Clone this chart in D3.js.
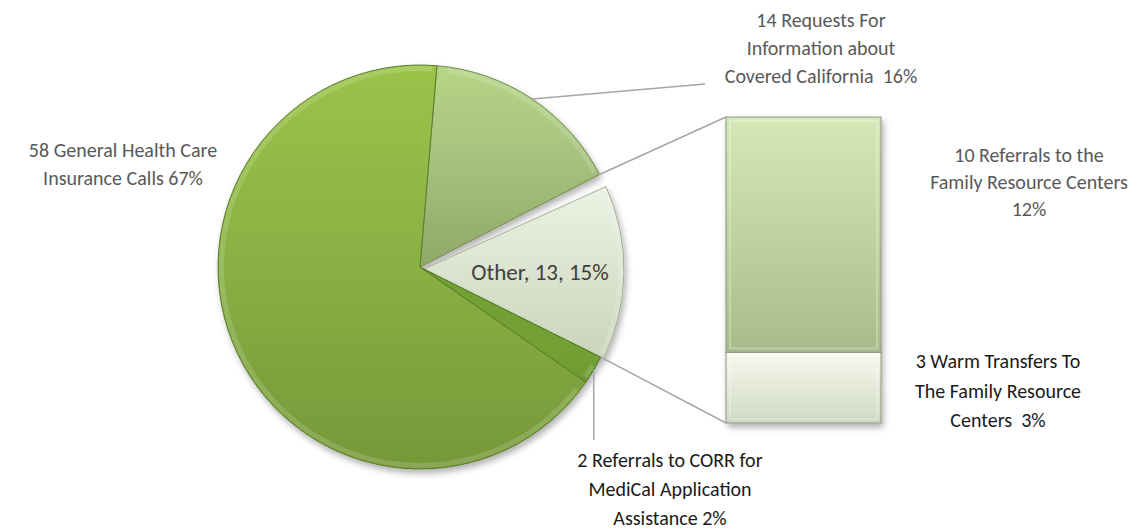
<!DOCTYPE html>
<html>
<head>
<meta charset="utf-8">
<script src="https://cdn.jsdelivr.net/npm/d3@7"></script>
<style>
  body { margin: 0; background: #fff; }
  text { font-family: Carlito, Calibri, Lato, sans-serif; white-space: pre; }
</style>
</head>
<body>
<script>
// pie slices, clockwise from just right of 12 o'clock
let sliceNames = ['Requests', 'Other', 'CORR', 'General']
let sliceValues = [14, 13, 2, 58]
let sliceLabels = [
  ['14 Requests For', 'Information about', 'Covered California  16%'],
  ['Other, 13, 15%'],
  ['2 Referrals to CORR for', 'MediCal Application', 'Assistance 2%'],
  ['58 General Health Care', 'Insurance Calls 67%']
]
// the "Other" slice broken out into the bar
let barNames = ['Referrals', 'Warm']
let barValues = [10, 3]
let barLabels = [
  ['10 Referrals to the', 'Family Resource Centers', '12%'],
  ['3 Warm Transfers To', 'The Family Resource', 'Centers  3%']
]

let width = 1139, height = 531
let cx = 420, cy = 267, radius = 202
let startDeg = 4.8

let svg = d3.select('body').append('svg')
  .attr('width', width)
  .attr('height', height)

let defs = svg.append('defs')

// vertical gradients (top light -> bottom darker)
// pie ones are in the pie group's coords (origin at the centre)
function gradient(id, stops, y1, y2) {
  let g = defs.append('linearGradient')
    .attr('id', id)
    .attr('gradientUnits', 'userSpaceOnUse')
    .attr('x1', 0).attr('x2', 0)
    .attr('y1', y1).attr('y2', y2)
  stops.forEach(s => g.append('stop').attr('offset', s[0]).attr('stop-color', s[1]))
}
gradient('g-Requests', [['0%', '#b6d686'], ['50%', '#a5c07d'], ['100%', '#8fa868']], -radius, 0)
gradient('g-Other', [['0%', '#f0f5e8'], ['100%', '#c9d3b8']], -100, 95)
gradient('g-CORR', [['0%', '#72a034'], ['100%', '#5a8426']], 90, 180)
gradient('g-General', [['0%', '#9bc349'], ['50%', '#89b043'], ['100%', '#759839']], -radius, radius)
gradient('g-Referrals', [['0%', '#d6e8b8'], ['100%', '#a9bb8b']], 117, 353)
gradient('g-Warm', [['0%', '#f6f9ef'], ['100%', '#d0d8c2']], 353, 423)

let shadow = defs.append('filter').attr('id', 'shadow')
  .attr('x', '-10%').attr('y', '-10%').attr('width', '130%').attr('height', '130%')
shadow.append('feDropShadow')
  .attr('dx', 2).attr('dy', 4).attr('stdDeviation', 3)
  .attr('flood-color', '#000').attr('flood-opacity', 0.3)

let strokes = { Requests: '#6f8a4c', Other: '#a3ae94', CORR: '#4d7320', General: '#5a7c2c' }

let pie = d3.pie()
  .sort(null)
  .startAngle(startDeg * Math.PI / 180)
  .endAngle(startDeg * Math.PI / 180 + 2 * Math.PI)
let arcs = pie(sliceValues)

let arc = d3.arc().innerRadius(0).outerRadius(radius)

let pieG = svg.append('g')
  .attr('transform', `translate(${cx}, ${cy})`)
  .attr('filter', 'url(#shadow)')

let shift = (d, i) => sliceNames[i] == 'Other' ? 'translate(2, 3)' : null

pieG.selectAll('path')
  .data(arcs)
  .enter()
  .append('path')
  .attr('transform', shift)
  .attr('d', (d, i) => sliceNames[i] == 'Other'
    ? arc({ startAngle: d.startAngle + 0.05, endAngle: d.endAngle - 0.01 })
    : arc(d))
  .attr('fill', (d, i) => `url(#g-${sliceNames[i]})`)
  .attr('stroke', (d, i) => strokes[sliceNames[i]])
  .attr('stroke-width', 1)
  .attr('stroke-linejoin', 'round')

// light rim for a bevelled look
let rim = d3.arc().innerRadius(radius - 6).outerRadius(radius - 1)
pieG.selectAll('path.rim')
  .data(arcs)
  .enter()
  .append('path')
  .attr('class', 'rim')
  .attr('transform', shift)
  .attr('d', d => rim({ startAngle: d.startAngle + 0.055, endAngle: d.endAngle - 0.02 }))
  .attr('fill', '#fff')
  .attr('opacity', 0.15)

// the bar of the "Other" slice
let barX = 726, barW = 155
let yScale = d3.scaleLinear()
  .domain([0, d3.sum(barValues)])
  .range([117, 423])

let stacked = []
let acc = 0
barValues.forEach((v, i) => { stacked.push({ name: barNames[i], y0: acc, y1: acc + v }); acc += v })

let barG = svg.append('g').attr('filter', 'url(#shadow)')
barG.selectAll('rect')
  .data(stacked)
  .enter()
  .append('rect')
  .attr('x', barX)
  .attr('y', d => yScale(d.y0))
  .attr('width', barW)
  .attr('height', d => yScale(d.y1) - yScale(d.y0))
  .attr('fill', d => `url(#g-${d.name})`)
  .attr('stroke', '#8a9878')
  .attr('stroke-width', 1)
barG.selectAll('rect.bevel')
  .data(stacked)
  .enter()
  .append('rect')
  .attr('class', 'bevel')
  .attr('x', barX + 4)
  .attr('y', d => yScale(d.y0) + 4)
  .attr('width', barW - 8)
  .attr('height', d => yScale(d.y1) - yScale(d.y0) - 8)
  .attr('fill', 'none')
  .attr('stroke', '#fff')
  .attr('stroke-opacity', 0.25)
  .attr('stroke-width', 2)

// connector lines pie -> bar
let other = arcs[sliceNames.indexOf('Other')]
let onRim = a => [cx + radius * Math.sin(a), cy - radius * Math.cos(a)]
let lineColor = '#a6a6a6'
let p1 = onRim(other.startAngle), p2 = onRim(other.endAngle)
svg.append('line')
  .attr('x1', p1[0]).attr('y1', p1[1])
  .attr('x2', barX).attr('y2', yScale(0))
  .attr('stroke', lineColor).attr('stroke-width', 1.5)
svg.append('line')
  .attr('x1', p2[0]).attr('y1', p2[1])
  .attr('x2', barX).attr('y2', yScale(d3.sum(barValues)))
  .attr('stroke', lineColor).attr('stroke-width', 1.5)

// leader lines
let mid = d => (d.startAngle + d.endAngle) / 2
let req = arcs[sliceNames.indexOf('Requests')]
let rp = onRim(mid(req))
svg.append('polyline')
  .attr('points', [rp, [705, 84]].join(' '))
  .attr('fill', 'none').attr('stroke', lineColor).attr('stroke-width', 1.5)
let corr = arcs[sliceNames.indexOf('CORR')]
let cp = onRim(mid(corr))
svg.append('polyline')
  .attr('points', [cp, [cp[0], 440]].join(' '))
  .attr('fill', 'none').attr('stroke', lineColor).attr('stroke-width', 1.5)

// labels
function label(lines, x, y, step, color, size) {
  let t = svg.append('text')
    .attr('x', x).attr('y', y)
    .attr('fill', color)
    .style('font-size', (size || 20) + 'px')
    .style('text-anchor', 'middle')
  lines.forEach((s, i) => {
    t.append('tspan').attr('x', x).attr('y', y + i * step).text(s)
  })
}
label(sliceLabels[0], 821, 27, 28, '#595959')
label(sliceLabels[1], 540, 280, 28, '#404040', 23)
label(sliceLabels[2], 670, 467, 29, '#1a1a1a')
label(sliceLabels[3], 123, 157, 28, '#595959')
label(barLabels[0], 1029, 162, 27, '#595959')
label(barLabels[1], 998, 368, 29.5, '#1a1a1a')
</script>
</body>
</html>
